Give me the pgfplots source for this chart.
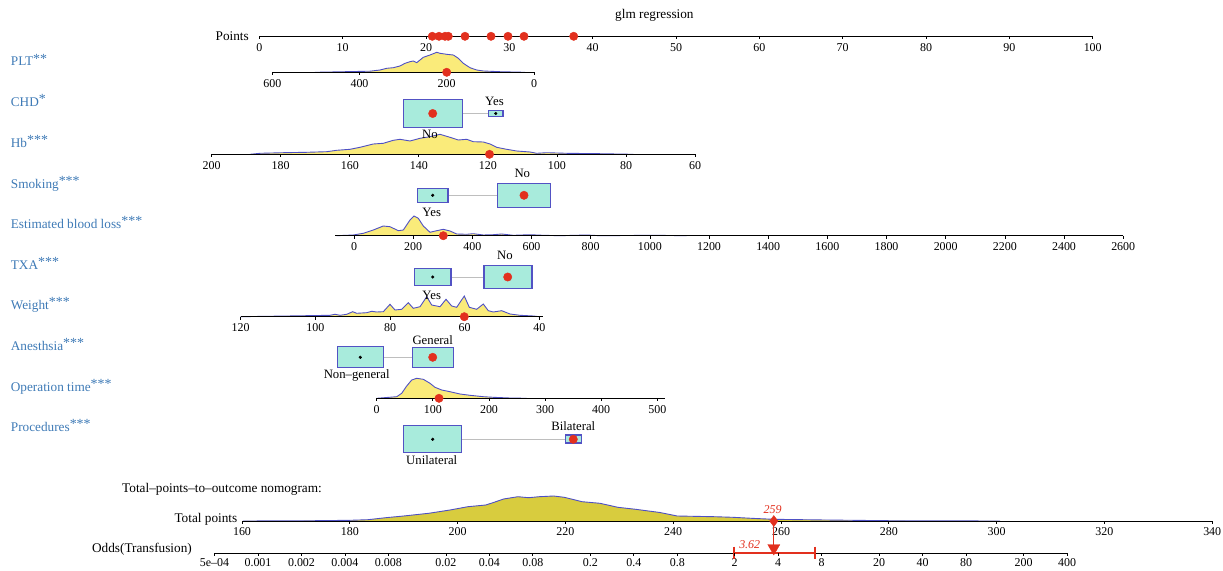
\documentclass[border=0pt]{standalone}
\usepackage{fontspec}
\setmainfont{Liberation Serif}
\usepackage{pgfplots}
\pgfplotsset{compat=1.18}
\definecolor{lab}{RGB}{62,122,182}
\definecolor{dens}{RGB}{250,235,122}
\definecolor{densline}{RGB}{78,80,196}
\definecolor{boxf}{RGB}{168,235,220}
\definecolor{boxl}{RGB}{82,82,196}
\definecolor{rdot}{RGB}{226,48,30}
\definecolor{tot}{RGB}{216,204,62}
\definecolor{conn}{RGB}{190,190,190}
\newcommand{\tks}{\fontsize{12}{14}\selectfont}
\newcommand{\cts}{\fontsize{12.8}{15}\selectfont}
\newcommand{\lbs}{\fontsize{13.3}{16}\selectfont}
\newcommand{\st}[1]{\raisebox{0.22em}{\fontsize{14}{14}\selectfont #1}}
\pgfdeclareplotmark{dtick}{\pgfpathmoveto{\pgfpointorigin}\pgfpathlineto{\pgfpoint{0pt}{-3bp}}\pgfusepathqstroke}
\begin{document}
\begin{tikzpicture}
\tikzset{every node/.style={inner sep=0pt}}
\begin{axis}[width=1223bp,height=571bp,scale only axis,xmin=0,xmax=1223,ymin=0,ymax=571,y dir=reverse,hide axis,clip=false]
\addplot[draw=none] coordinates {(0,0)(1223,571)};
% ---------- left labels ----------
\node[anchor=base west,font=\lbs,text=lab] at (axis cs:10.7,66) {PLT\st{**}};
\node[anchor=base west,font=\lbs,text=lab] at (axis cs:10.7,106.7) {CHD\st{*}};
\node[anchor=base west,font=\lbs,text=lab] at (axis cs:10.7,147.3) {Hb\st{***}};
\node[anchor=base west,font=\lbs,text=lab] at (axis cs:10.7,188) {Smoking\st{***}};
\node[anchor=base west,font=\lbs,text=lab] at (axis cs:10.7,228.6) {Estimated blood loss\st{***}};
\node[anchor=base west,font=\lbs,text=lab] at (axis cs:10.7,269.3) {TXA\st{***}};
\node[anchor=base west,font=\lbs,text=lab] at (axis cs:10.7,309.9) {Weight\st{***}};
\node[anchor=base west,font=\lbs,text=lab] at (axis cs:10.7,350.6) {Anesthsia\st{***}};
\node[anchor=base west,font=\lbs,text=lab] at (axis cs:10.7,391.2) {Operation time\st{***}};
\node[anchor=base west,font=\lbs,text=lab] at (axis cs:10.7,431.9) {Procedures\st{***}};
% ---------- title & points ----------
\node[anchor=base west,font=\lbs] at (axis cs:615,19) {glm regression};
\node[anchor=base east,font=\lbs] at (axis cs:249,40.5) {Points};
\addplot[black,line width=1pt] coordinates {(259.3,36.3)(1092.7,36.3)};
\addplot[black,line width=0.8pt,only marks,mark=dtick] coordinates {(259.3,36.3)(342.6,36.3)(426.0,36.3)(509.3,36.3)(592.7,36.3)(676.0,36.3)(759.3,36.3)(842.7,36.3)(926.0,36.3)(1009.4,36.3)(1092.7,36.3)};
\node[anchor=base,font=\tks] at (axis cs:259.3,51.3) {0};
\node[anchor=base,font=\tks] at (axis cs:342.6,51.3) {10};
\node[anchor=base,font=\tks] at (axis cs:426.0,51.3) {20};
\node[anchor=base,font=\tks] at (axis cs:509.3,51.3) {30};
\node[anchor=base,font=\tks] at (axis cs:592.7,51.3) {40};
\node[anchor=base,font=\tks] at (axis cs:676.0,51.3) {50};
\node[anchor=base,font=\tks] at (axis cs:759.3,51.3) {60};
\node[anchor=base,font=\tks] at (axis cs:842.7,51.3) {70};
\node[anchor=base,font=\tks] at (axis cs:926.0,51.3) {80};
\node[anchor=base,font=\tks] at (axis cs:1009.4,51.3) {90};
\node[anchor=base,font=\tks] at (axis cs:1092.7,51.3) {100};
\addplot[only marks,mark=*,mark size=4.2bp,color=rdot] coordinates {(432.3,36.3)(439,36.3)(445,36.3)(448.3,36.3)(465,36.3)(491,36.3)(508,36.3)(524,36.3)(573.7,36.3)};
% ---------- PLT ----------
\addplot[fill=dens,draw=densline,line width=0.9pt] coordinates {(315,72.3)(345,71.7)(370,71.2)(380,70)(386.7,68.3)(393.3,67.7)(400,66)(405,63.3)(410,61.7)(413.3,61)(416.7,62.7)(420,60)(423.3,57.3)(430,55)(436.7,52.3)(440,53.3)(446.7,54.3)(453.3,55)(458.3,58.3)(463.3,63.3)(470,67.7)(476.7,70)(483.3,71)(500,71.7)(525,72.3)};
\addplot[black,line width=1pt] coordinates {(272.3,72.3)(534,72.3)};
\addplot[black,line width=0.8pt,only marks,mark=dtick] coordinates {(272.3,72.3)(359.5,72.3)(446.7,72.3)(534,72.3)};
\node[anchor=base,font=\tks] at (axis cs:272.3,87.3) {600};
\node[anchor=base,font=\tks] at (axis cs:359.5,87.3) {400};
\node[anchor=base,font=\tks] at (axis cs:446.7,87.3) {200};
\node[anchor=base,font=\tks] at (axis cs:534,87.3) {0};
\addplot[only marks,mark=*,mark size=4.2bp,color=rdot] coordinates {(446.7,72.3)};
% ---------- CHD ----------
\addplot[conn,line width=1pt] coordinates {(462.3,113.5)(488.7,113.5)};
\addplot[fill=boxf,draw=boxl,line width=1.4pt] coordinates {(403.3,99.3)(462.3,99.3)(462.3,127.3)(403.3,127.3)} --cycle;
\addplot[fill=boxf,draw=boxl,line width=1.4pt] coordinates {(488.7,110.3)(503,110.3)(503,116.7)(488.7,116.7)} --cycle;
\addplot[only marks,mark=*,mark size=4.2bp,color=rdot] coordinates {(432.7,113.5)};
\addplot[only marks,mark=*,mark size=1.4bp,color=black] coordinates {(495.7,113.5)};
\node[anchor=base,font=\cts] at (axis cs:494.5,105) {Yes};
% ---------- Hb ----------
\addplot[fill=dens,draw=densline,line width=0.9pt] coordinates {(250,154.3)(260,153.3)(283.3,152.7)(306.7,152.3)(326.7,151.7)(336.7,150.3)(350,149.3)(360,147.3)(373.3,144)(383.3,143.3)(393.3,140.3)(400,139.3)(410,141)(420,138.3)(430,136.7)(440,134.3)(450,137.3)(458.3,140)(466.7,139.3)(473.3,141.7)(483.3,142)(490,144)(496.7,147.3)(506.7,149.3)(516.7,151)(530,152)(536.7,153.3)(546.7,152.7)(566.7,153.3)(600,153.7)(633.3,154.3)};
\node[anchor=base,font=\cts] at (axis cs:430,138.3) {No};
\addplot[black,line width=1pt] coordinates {(211.7,154.3)(695,154.3)};
\addplot[black,line width=0.8pt,only marks,mark=dtick] coordinates {(211.7,154.3)(280.7,154.3)(349.8,154.3)(418.8,154.3)(487.9,154.3)(556.9,154.3)(626.0,154.3)(695,154.3)};
\node[anchor=base,font=\tks] at (axis cs:211.7,169.3) {200};
\node[anchor=base,font=\tks] at (axis cs:280.7,169.3) {180};
\node[anchor=base,font=\tks] at (axis cs:349.8,169.3) {160};
\node[anchor=base,font=\tks] at (axis cs:418.8,169.3) {140};
\node[anchor=base,font=\tks] at (axis cs:487.9,169.3) {120};
\node[anchor=base,font=\tks] at (axis cs:556.9,169.3) {100};
\node[anchor=base,font=\tks] at (axis cs:626.0,169.3) {80};
\node[anchor=base,font=\tks] at (axis cs:695,169.3) {60};
\addplot[only marks,mark=*,mark size=4.2bp,color=rdot] coordinates {(489.5,154.3)};
% ---------- Smoking ----------
\addplot[conn,line width=1pt] coordinates {(448,195.3)(497.7,195.3)};
\addplot[fill=boxf,draw=boxl,line width=1.4pt] coordinates {(417.3,188.3)(448,188.3)(448,202.7)(417.3,202.7)} --cycle;
\addplot[fill=boxf,draw=boxl,line width=1.4pt] coordinates {(497.7,183.3)(550.3,183.3)(550.3,207.7)(497.7,207.7)} --cycle;
\addplot[only marks,mark=*,mark size=1.4bp,color=black] coordinates {(432.7,195.3)};
\addplot[only marks,mark=*,mark size=4.2bp,color=rdot] coordinates {(524,195.3)};
\node[anchor=base,font=\cts] at (axis cs:522.3,177.3) {No};
% ---------- Estimated blood loss ----------
\addplot[fill=dens,draw=densline,line width=0.9pt] coordinates {(336.7,235.7)(353.3,235)(363.3,233.3)(373.3,230)(383.3,226)(390,226.7)(398.3,230.7)(403.3,230)(410,220)(414,216)(418.3,218.3)(423.3,226)(430,232.3)(436.7,230.7)(443.3,229.3)(450,231)(456.7,234)(466.7,234.3)(473.3,233.7)(483.3,235)(493.3,234.7)(501.7,234)(513.3,235.3)(530,234.7)(543.3,235.3)(560,235.7)(586.7,235)(600,235.7)(653.3,235.3)(686.7,235.7)};
\node[anchor=base,font=\cts] at (axis cs:431.7,216.5) {Yes};
\addplot[black,line width=1pt] coordinates {(335,235.7)(1123.2,235.7)};
\addplot[black,line width=0.8pt,only marks,mark=dtick] coordinates {(354,235.7)(413.2,235.7)(472.3,235.7)(531.5,235.7)(590.7,235.7)(649.9,235.7)(709,235.7)(768.2,235.7)(827.4,235.7)(886.5,235.7)(945.7,235.7)(1004.9,235.7)(1064,235.7)(1123.2,235.7)};
\node[anchor=base,font=\tks] at (axis cs:354,250.2) {0};
\node[anchor=base,font=\tks] at (axis cs:413.2,250.2) {200};
\node[anchor=base,font=\tks] at (axis cs:472.3,250.2) {400};
\node[anchor=base,font=\tks] at (axis cs:531.5,250.2) {600};
\node[anchor=base,font=\tks] at (axis cs:590.7,250.2) {800};
\node[anchor=base,font=\tks] at (axis cs:649.9,250.2) {1000};
\node[anchor=base,font=\tks] at (axis cs:709,250.2) {1200};
\node[anchor=base,font=\tks] at (axis cs:768.2,250.2) {1400};
\node[anchor=base,font=\tks] at (axis cs:827.4,250.2) {1600};
\node[anchor=base,font=\tks] at (axis cs:886.5,250.2) {1800};
\node[anchor=base,font=\tks] at (axis cs:945.7,250.2) {2000};
\node[anchor=base,font=\tks] at (axis cs:1004.9,250.2) {2200};
\node[anchor=base,font=\tks] at (axis cs:1064,250.2) {2400};
\node[anchor=base,font=\tks] at (axis cs:1123.2,250.2) {2600};
\addplot[only marks,mark=*,mark size=4.2bp,color=rdot] coordinates {(443.3,235.7)};
% ---------- TXA ----------
\node[anchor=base,font=\cts] at (axis cs:505,259.5) {No};
\addplot[conn,line width=1pt] coordinates {(451,277)(484,277)};
\addplot[fill=boxf,draw=boxl,line width=1.4pt] coordinates {(414.3,268.3)(451,268.3)(451,285.7)(414.3,285.7)} --cycle;
\addplot[fill=boxf,draw=boxl,line width=1.4pt] coordinates {(484,265.7)(532,265.7)(532,288.3)(484,288.3)} --cycle;
\addplot[only marks,mark=*,mark size=1.4bp,color=black] coordinates {(432.7,277)};
\addplot[only marks,mark=*,mark size=4.2bp,color=rdot] coordinates {(507.7,277)};
% ---------- Weight ----------
\addplot[fill=dens,draw=densline,line width=0.9pt] coordinates {(240.7,316.7)(286.7,316)(330,315.3)(335,314.3)(340,315.3)(346.7,314.3)(352.7,311.7)(356.7,313.3)(366.7,312.7)(371.7,311.3)(376.7,312)(383.3,311.7)(390,304.3)(395,310)(401.7,309.3)(408.3,302.7)(413.3,308.3)(420,306.7)(426.7,296.7)(431.7,305)(440,306.7)(446,299.3)(451.7,306)(456.7,307.3)(464.3,296)(469.3,307.3)(476.7,309.3)(483.3,304)(488.3,310.7)(493.3,312)(501.7,310.7)(510,314)(520,315.3)(533.3,316)(539.3,316.7)};
\node[anchor=base,font=\cts] at (axis cs:431.7,299.3) {Yes};
\addplot[black,line width=1pt] coordinates {(240.7,316.7)(543,316.7)};
\addplot[black,line width=0.8pt,only marks,mark=dtick] coordinates {(240.7,316.7)(315.4,316.7)(390,316.7)(464.7,316.7)(539.3,316.7)};
\node[anchor=base,font=\tks] at (axis cs:240.7,331.5) {120};
\node[anchor=base,font=\tks] at (axis cs:315.4,331.5) {100};
\node[anchor=base,font=\tks] at (axis cs:390,331.5) {80};
\node[anchor=base,font=\tks] at (axis cs:464.7,331.5) {60};
\node[anchor=base,font=\tks] at (axis cs:539.3,331.5) {40};
\addplot[only marks,mark=*,mark size=4.2bp,color=rdot] coordinates {(464.3,316.7)};
% ---------- Anesthesia ----------
\node[anchor=base,font=\cts] at (axis cs:432.7,344) {General};
\addplot[conn,line width=1pt] coordinates {(383.3,357.3)(412.3,357.3)};
\addplot[fill=boxf,draw=boxl,line width=1.4pt] coordinates {(337.3,346.7)(383.3,346.7)(383.3,367.3)(337.3,367.3)} --cycle;
\addplot[fill=boxf,draw=boxl,line width=1.4pt] coordinates {(412.3,347.7)(453.3,347.7)(453.3,367.3)(412.3,367.3)} --cycle;
\addplot[only marks,mark=*,mark size=1.4bp,color=black] coordinates {(360.3,357.3)};
\addplot[only marks,mark=*,mark size=4.2bp,color=rdot] coordinates {(432.7,357.3)};
\node[anchor=base,font=\cts] at (axis cs:356.7,378.3) {Non{\char"2013}general};
% ---------- Operation time ----------
\addplot[fill=dens,draw=densline,line width=0.9pt] coordinates {(376.7,398.3)(396.7,396.7)(401.7,393.3)(406.7,386)(411.7,380)(416.7,378.3)(423.3,379.3)(430,383.3)(435,387.3)(441.7,390)(450,391.7)(460,394)(470,395.3)(483.3,396.7)(493.3,397.3)(510,398)(526.7,398.3)};
\addplot[black,line width=1pt] coordinates {(376.7,398.3)(665,398.3)};
\addplot[black,line width=0.8pt,only marks,mark=dtick] coordinates {(376.7,398.3)(432.8,398.3)(489,398.3)(545.1,398.3)(601.2,398.3)(657.4,398.3)};
\node[anchor=base,font=\tks] at (axis cs:376.7,413) {0};
\node[anchor=base,font=\tks] at (axis cs:432.8,413) {100};
\node[anchor=base,font=\tks] at (axis cs:489,413) {200};
\node[anchor=base,font=\tks] at (axis cs:545.1,413) {300};
\node[anchor=base,font=\tks] at (axis cs:601.2,413) {400};
\node[anchor=base,font=\tks] at (axis cs:657.4,413) {500};
\addplot[only marks,mark=*,mark size=4.2bp,color=rdot] coordinates {(439,398.3)};
% ---------- Procedures ----------
\node[anchor=base,font=\cts] at (axis cs:573.3,430.7) {Bilateral};
\addplot[conn,line width=1pt] coordinates {(461.7,439.3)(565.3,439.3)};
\addplot[fill=boxf,draw=boxl,line width=1.4pt] coordinates {(403.3,425.7)(461.7,425.7)(461.7,452.3)(403.3,452.3)} --cycle;
\addplot[fill=boxf,draw=boxl,line width=1.4pt] coordinates {(565.3,435)(581.7,435)(581.7,443)(565.3,443)} --cycle;
\addplot[only marks,mark=*,mark size=1.4bp,color=black] coordinates {(432.7,439.3)};
\addplot[only marks,mark=*,mark size=4.2bp,color=rdot] coordinates {(573.3,439.3)};
\node[anchor=base,font=\cts] at (axis cs:431.7,464.3) {Unilateral};
% ---------- Total points ----------
\node[anchor=base west,font=\lbs] at (axis cs:122,492.5) {Total{\char"2013}points{\char"2013}to{\char"2013}outcome nomogram:};
\addplot[fill=tot,draw=densline,line width=0.9pt] coordinates {(242.9,521)(314.3,520.7)(350,520.3)(367.9,519.7)(385.7,517.7)(403.6,516)(428.6,513.3)(450,510)(467.9,506.7)(485.7,505)(492.9,502.7)(503.6,499)(517.9,496.7)(528.6,497.7)(539.3,496.7)(553.6,496)(564.3,497.3)(582.1,501.7)(600,503.3)(617.9,507.3)(635.7,509.3)(660,512.5)(677.2,516)(714.3,516.7)(733,517.3)(751.5,518.3)(773.8,519.3)(825.9,520)(889,520.7)(1000,521)};
\node[anchor=base east,font=\lbs] at (axis cs:237.5,522.5) {Total points};
\addplot[black,line width=1pt] coordinates {(242,521)(1212.2,521)};
\addplot[black,line width=0.8pt,only marks,mark=dtick] coordinates {(242,521)(349.8,521)(457.6,521)(565.4,521)(673.2,521)(781,521)(888.8,521)(996.6,521)(1104.4,521)(1212.2,521)};
\node[anchor=base,font=\tks] at (axis cs:242,535) {160};
\node[anchor=base,font=\tks] at (axis cs:349.8,535) {180};
\node[anchor=base,font=\tks] at (axis cs:457.6,535) {200};
\node[anchor=base,font=\tks] at (axis cs:565.4,535) {220};
\node[anchor=base,font=\tks] at (axis cs:673.2,535) {240};
\node[anchor=base,font=\tks] at (axis cs:781,535) {260};
\node[anchor=base,font=\tks] at (axis cs:888.8,535) {280};
\node[anchor=base,font=\tks] at (axis cs:996.6,535) {300};
\node[anchor=base,font=\tks] at (axis cs:1104.4,535) {320};
\node[anchor=base,font=\tks] at (axis cs:1212.2,535) {340};
% ---------- Odds ----------
\node[anchor=base east,font=\lbs] at (axis cs:192,552.5) {Odds(Transfusion)};
\addplot[black,line width=1pt] coordinates {(214.5,553.3)(1067,553.3)};
\addplot[black,line width=0.8pt,only marks,mark=dtick] coordinates {(214.5,553.3)(258,553.3)(301.5,553.3)(344.9,553.3)(388.4,553.3)(445.9,553.3)(489.4,553.3)(532.8,553.3)(590.3,553.3)(633.8,553.3)(677.3,553.3)(734.7,553.3)(778.2,553.3)(821.6,553.3)(879.1,553.3)(922.6,553.3)(966.1,553.3)(1023.5,553.3)(1067,553.3)};
\node[anchor=base,font=\tks] at (axis cs:214.5,566.5) {5e{\char"2013}04};
\node[anchor=base,font=\tks] at (axis cs:258,566.5) {0.001};
\node[anchor=base,font=\tks] at (axis cs:301.5,566.5) {0.002};
\node[anchor=base,font=\tks] at (axis cs:344.9,566.5) {0.004};
\node[anchor=base,font=\tks] at (axis cs:388.4,566.5) {0.008};
\node[anchor=base,font=\tks] at (axis cs:445.9,566.5) {0.02};
\node[anchor=base,font=\tks] at (axis cs:489.4,566.5) {0.04};
\node[anchor=base,font=\tks] at (axis cs:532.8,566.5) {0.08};
\node[anchor=base,font=\tks] at (axis cs:590.3,566.5) {0.2};
\node[anchor=base,font=\tks] at (axis cs:633.8,566.5) {0.4};
\node[anchor=base,font=\tks] at (axis cs:677.3,566.5) {0.8};
\node[anchor=base,font=\tks] at (axis cs:734.7,566.5) {2};
\node[anchor=base,font=\tks] at (axis cs:778.2,566.5) {4};
\node[anchor=base,font=\tks] at (axis cs:821.6,566.5) {8};
\node[anchor=base,font=\tks] at (axis cs:879.1,566.5) {20};
\node[anchor=base,font=\tks] at (axis cs:922.6,566.5) {40};
\node[anchor=base,font=\tks] at (axis cs:966.1,566.5) {80};
\node[anchor=base,font=\tks] at (axis cs:1023.5,566.5) {200};
\node[anchor=base,font=\tks] at (axis cs:1067,566.5) {400};
% ---------- prediction ----------
\addplot[rdot,line width=1.2pt] coordinates {(773.8,521)(773.8,546)};
\addplot[rdot,line width=2pt] coordinates {(734,553)(814.7,553)};
\addplot[rdot,line width=1.6pt] coordinates {(734,546.7)(734,559.3)};
\addplot[rdot,line width=1.6pt] coordinates {(814.7,546.7)(814.7,559.3)};
\addplot[only marks,mark=triangle*,mark size=7bp,mark options={rotate=180},color=rdot] coordinates {(773.8,548)};
\addplot[only marks,mark=diamond*,mark size=5.5bp,color=rdot] coordinates {(773.8,521)};
\node[anchor=base,font=\tks\itshape,text=rdot] at (axis cs:772.7,513.5) {259};
\node[anchor=base,font=\tks\itshape,text=rdot] at (axis cs:749.7,548.5) {3.62};
\end{axis}
\end{tikzpicture}
\end{document}
